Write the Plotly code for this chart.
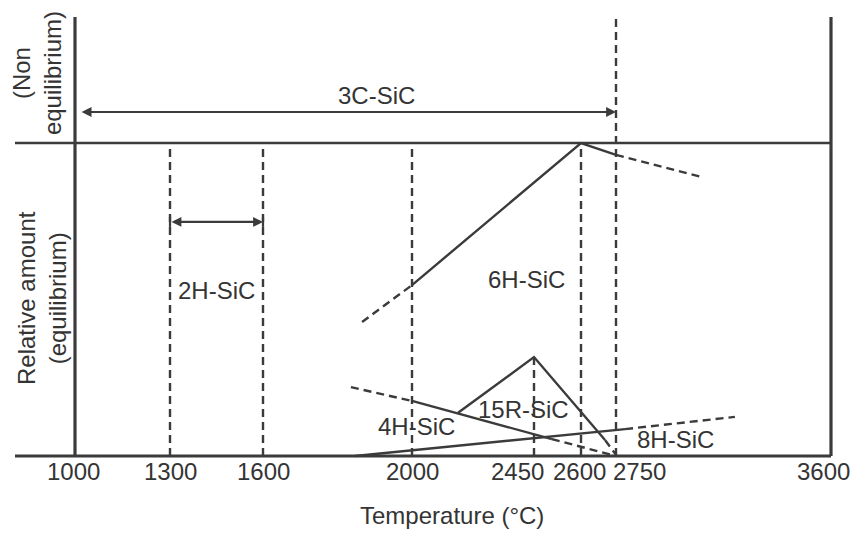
import numpy as np
import plotly.graph_objects as go

# ---- temperature axis (schematic, non-uniform spacing) ----
TICK_TEMPS = [1000, 1300, 1600, 2000, 2450, 2600, 2750, 3600]
TICK_LABELS = ["1000", "1300", "1600", "2000", "2450", "2600", "2750", "3600"]
AXIS_SPACING = [0, 95, 188, 337, 459, 506, 541, 756]

# ---- relative amount of each polytype vs temperature (°C) ----
# 6H-SiC
T_6H = [2000, 2600, 2750]
AMT_6H = [0.546, 1.00, 0.962]
T_6H_LOW = [1866, 2000]
AMT_6H_LOW = [0.428, 0.546]
T_6H_HIGH = [2750, 3090]
AMT_6H_HIGH = [0.962, 0.891]

# 4H-SiC
T_4H = [2000, 2507]
AMT_4H = [0.176, 0.054]
T_4H_LOW = [1836, 2000]
AMT_4H_LOW = [0.220, 0.176]
T_4H_HIGH = [2507, 2750]
AMT_4H_HIGH = [0.054, 0.000]

# 15R-SiC
T_15R = [2170, 2450, 2703]
AMT_15R = [0.138, 0.316, 0.051]
T_15R_HIGH = [2703, 2750]
AMT_15R_HIGH = [0.051, 0.004]

# 8H-SiC
T_8H = [1847, 2786]
AMT_8H = [0.000, 0.086]
T_8H_HIGH = [2786, 3220]
AMT_8H_HIGH = [0.086, 0.125]

# stability ranges
RANGE_3C = [1016, 2750]
RANGE_2H = [1300, 1600]
BOUNDARY_TEMPS = [1300, 1600, 2000, 2600]

# polytype labels: (text, temperature, amount)
PHASE_NAMES = ["3C-SiC", "2H-SiC", "6H-SiC", "15R-SiC", "4H-SiC", "8H-SiC"]
PHASE_LABEL_T = [1906, 1450, 2424, 2413, 2018, 2987]
PHASE_LABEL_AMT = [1.153, 0.530, 0.565, 0.147, 0.093, 0.054]

LEVEL_3C = 1.099
LEVEL_2H = 0.748
Y_TOP = 1.4026

INK = "#3b3b3b"
TXT = "#343434"
FONT = "Liberation Sans, Arial, Helvetica, sans-serif"
DASH = "8px,5px"


def warp(t):
    """Map temperature onto the schematic axis."""
    return np.interp(np.asarray(t, dtype=float), TICK_TEMPS, AXIS_SPACING)


fig = go.Figure()


def add_line(ts, vals, dashed=False):
    fig.add_trace(go.Scatter(
        x=warp(ts), y=vals, mode="lines", hoverinfo="skip", showlegend=False,
        line=dict(color=INK, width=2.4, dash=DASH if dashed else "solid"),
    ))


# polytype curves
add_line(T_6H, AMT_6H)
add_line(T_6H_LOW, AMT_6H_LOW, True)
add_line(T_6H_HIGH, AMT_6H_HIGH, True)
add_line(T_4H, AMT_4H)
add_line(T_4H_LOW, AMT_4H_LOW, True)
add_line(T_4H_HIGH, AMT_4H_HIGH, True)
add_line(T_15R, AMT_15R)
add_line(T_15R_HIGH, AMT_15R_HIGH, True)
add_line(T_8H, AMT_8H)
add_line(T_8H_HIGH, AMT_8H_HIGH, True)

# frame: baseline, equilibrium divider, end walls
x_left, x_right = -60, warp(TICK_TEMPS[-1])
shapes = [
    dict(type="line", xref="x", yref="y", x0=x_left, x1=x_right, y0=0, y1=0,
         line=dict(color=INK, width=3.2)),
    dict(type="line", xref="x", yref="y", x0=x_left, x1=x_right, y0=1, y1=1,
         line=dict(color=INK, width=2.6)),
    dict(type="line", xref="x", yref="y", x0=warp(TICK_TEMPS[0]), x1=warp(TICK_TEMPS[0]),
         y0=0, y1=Y_TOP, line=dict(color=INK, width=3.2)),
    dict(type="line", xref="x", yref="y", x0=x_right, x1=x_right, y0=0, y1=Y_TOP,
         line=dict(color=INK, width=3.2)),
]
# dashed boundaries
for t in BOUNDARY_TEMPS:
    shapes.append(dict(type="line", xref="x", yref="y", x0=warp(t), x1=warp(t), y0=0, y1=1,
                       line=dict(color=INK, width=2.4, dash=DASH)))
shapes.append(dict(type="line", xref="x", yref="y", x0=warp(2750), x1=warp(2750), y0=0, y1=Y_TOP,
                   line=dict(color=INK, width=2.4, dash=DASH)))
peak_15r = AMT_15R[int(np.argmax(AMT_15R))]
shapes.append(dict(type="line", xref="x", yref="y", x0=warp(2450), x1=warp(2450), y0=0, y1=peak_15r,
                   line=dict(color=INK, width=2.4, dash=DASH)))

# short end bars on the 2H-SiC range arrow
for t in RANGE_2H:
    shapes.append(dict(type="line", xref="x", yref="y", x0=warp(t), x1=warp(t),
                       y0=LEVEL_2H - 0.016, y1=LEVEL_2H + 0.016,
                       line=dict(color=INK, width=2.2)))

annotations = []

# double-headed range arrows
for rng, lvl in ((RANGE_3C, LEVEL_3C), (RANGE_2H, LEVEL_2H)):
    annotations.append(dict(
        x=float(warp(rng[1])), y=lvl, ax=float(warp(rng[0])), ay=lvl,
        xref="x", yref="y", axref="x", ayref="y", text="", showarrow=True,
        arrowhead=2, startarrowhead=2, arrowside="end+start", arrowsize=0.9,
        startarrowsize=0.9, arrowwidth=2.2, arrowcolor=INK, standoff=0, startstandoff=0,
    ))

# polytype names
for name, t, a in zip(PHASE_NAMES, PHASE_LABEL_T, PHASE_LABEL_AMT):
    annotations.append(dict(x=float(warp(t)), y=a, xref="x", yref="y", text=name,
                            showarrow=False, xanchor="center", yanchor="middle",
                            font=dict(family=FONT, size=24, color=TXT)))

# temperature tick labels (the crowded ones are nudged apart)
label_nudge = {"1000": -2, "2450": -17, "2600": -2, "2750": 23, "3600": -8}
for t, lab in zip(TICK_TEMPS, TICK_LABELS):
    annotations.append(dict(x=float(warp(t)), y=-0.013, xref="x", yref="paper", text=lab,
                            showarrow=False, xanchor="center", yanchor="middle",
                            xshift=label_nudge.get(lab, 0),
                            font=dict(family=FONT, size=24, color=TXT)))

# axis titles
annotations.append(dict(x=0.5337, y=-0.107, xref="paper", yref="paper",
                        text="Temperature (°C)", showarrow=False,
                        xanchor="center", yanchor="middle",
                        font=dict(family=FONT, size=24, color=TXT)))
annotations.append(dict(x=0.0349, y=0.858, xref="paper", yref="paper",
                        text="(Non<br>equilibrium)", showarrow=False, textangle=-90,
                        xanchor="center", yanchor="middle",
                        font=dict(family=FONT, size=24, color=TXT)))
annotations.append(dict(x=0.0409, y=0.3668, xref="paper", yref="paper",
                        text="Relative amount<br>(equilibrium)", showarrow=False, textangle=-90,
                        xanchor="center", yanchor="middle",
                        font=dict(family=FONT, size=24, color=TXT)))

fig.update_layout(
    width=853, height=534,
    margin=dict(l=8, r=13, t=8, b=68, pad=0),
    paper_bgcolor="white", plot_bgcolor="white",
    xaxis=dict(range=[-67, 765], visible=False, fixedrange=True),
    yaxis=dict(range=[-10 / 313, 448 / 313], visible=False, fixedrange=True),
    shapes=shapes, annotations=annotations,
    showlegend=False,
)

fig.write_html("out.html")
